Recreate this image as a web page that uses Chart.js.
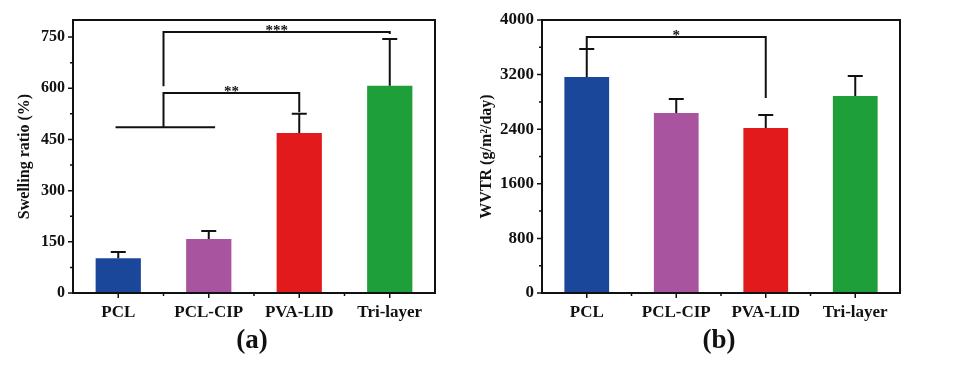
<!DOCTYPE html>
<html lang="en">
<head>
<meta charset="UTF-8">
<title>Swelling ratio and WVTR</title>
<script src="https://cdn.jsdelivr.net/npm/chart.js"></script>
<style>
  body { margin: 0; background: #fff; width: 955px; height: 371px; overflow: hidden; position: relative; }
  .panel { position: absolute; top: 0; height: 371px; }
  #panelA { left: 0; width: 460px; }
  #panelB { left: 480px; width: 475px; }
</style>
</head>
<body>
<div class="panel" id="panelA"><canvas id="chartA"></canvas></div>
<div class="panel" id="panelB"><canvas id="chartB"></canvas></div>

<script>
// data
const groups = ['PCL', 'PCL-CIP', 'PVA-LID', 'Tri-layer'];
const barColors = ['#1b479b', '#a8549f', '#e31a1c', '#1f9f39'];

const swelling = [102, 158, 469, 607];
const swellingErr = [18, 24, 56, 137];      // upper error only
const swellingTicks = [0, 150, 300, 450, 600, 750];

const wvtr = [3165, 2637, 2418, 2886];
const wvtrErr = [410, 205, 190, 293];
const wvtrTicks = [0, 800, 1600, 2400, 3200, 4000];

// significance marks (x in category index, y in data units)
const swellingGroupLine = { from: -0.03, to: 1.07, level: 486 };
const swellingBrackets = [
  { from: 0.5, to: 2, left: 486, level: 586, right: 530, label: '**' },
  { from: 0.5, to: 3, left: 606, level: 765, right: 759, label: '***' }
];
const wvtrBrackets = [
  { from: 0, to: 2, left: 3590, level: 3751, right: 2857, label: '*' }
];

const serif = '"Liberation Serif", "Times New Roman", serif';
Chart.defaults.font.family = serif;
Chart.defaults.font.weight = 'bold';
Chart.defaults.color = '#111';

function decor(values, errors, ticks, groupLine, brackets, tag) {
  return {
    id: 'decor',
    afterDatasetsDraw(chart) {
      const ctx = chart.ctx;
      const a = chart.chartArea;
      const x = chart.scales.x, y = chart.scales.y;
      ctx.save();
      ctx.strokeStyle = '#111';
      ctx.fillStyle = '#111';

      // error bars
      ctx.lineWidth = 2;
      values.forEach((v, i) => {
        const cx = x.getPixelForValue(i);
        const y0 = y.getPixelForValue(v);
        const y1 = y.getPixelForValue(v + errors[i]);
        ctx.beginPath();
        ctx.moveTo(cx, y0); ctx.lineTo(cx, y1);
        ctx.moveTo(cx - 7.5, y1); ctx.lineTo(cx + 7.5, y1);
        ctx.stroke();
      });

      // group line + brackets
      if (groupLine) {
        const gy = y.getPixelForValue(groupLine.level);
        ctx.beginPath();
        ctx.moveTo(x.getPixelForValue(groupLine.from), gy);
        ctx.lineTo(x.getPixelForValue(groupLine.to), gy);
        ctx.stroke();
      }
      ctx.font = 'bold 15px ' + serif;
      ctx.textAlign = 'center';
      ctx.textBaseline = 'alphabetic';
      brackets.forEach(b => {
        const x0 = x.getPixelForValue(b.from), x1 = x.getPixelForValue(b.to);
        const yl = y.getPixelForValue(b.level);
        ctx.beginPath();
        ctx.moveTo(x0, y.getPixelForValue(b.left));
        ctx.lineTo(x0, yl);
        ctx.lineTo(x1, yl);
        ctx.lineTo(x1, y.getPixelForValue(b.right));
        ctx.stroke();
        ctx.fillText(b.label, (x0 + x1) / 2, yl + 3);
      });

      // frame
      ctx.lineWidth = 2;
      ctx.strokeRect(a.left, a.top, a.right - a.left, a.bottom - a.top);

      // tick marks
      ctx.lineWidth = 1.5;
      ctx.beginPath();
      ticks.forEach((t, i) => {
        const ty = y.getPixelForValue(t);
        ctx.moveTo(a.left - 5, ty); ctx.lineTo(a.left, ty);
        if (i < ticks.length - 1) {
          const my = y.getPixelForValue((t + ticks[i + 1]) / 2);
          ctx.moveTo(a.left - 3, my); ctx.lineTo(a.left, my);
        }
      });
      groups.forEach((g, i) => {
        const tx = x.getPixelForValue(i);
        ctx.moveTo(tx, a.bottom); ctx.lineTo(tx, a.bottom + 5);
        if (i < groups.length - 1) {
          const mx = x.getPixelForValue(i + 0.5);
          ctx.moveTo(mx, a.bottom); ctx.lineTo(mx, a.bottom + 3);
        }
      });
      ctx.stroke();

      // panel tag
      ctx.font = 'bold 27px ' + serif;
      ctx.textBaseline = 'middle';
      ctx.fillText(tag, (a.left + a.right) / 2 - 2, a.bottom + 48);
      ctx.restore();
    }
  };
}

function makeChart(id, values, errors, ticks, maxY, yWidth, yTitle, titlePad, tickSize, rightPad, groupLine, brackets, tag) {
  return new Chart(document.getElementById(id), {
    type: 'bar',
    data: {
      labels: groups,
      datasets: [{
        data: values,
        backgroundColor: barColors,
        borderWidth: 0,
        barPercentage: 0.5,
        categoryPercentage: 1.0
      }]
    },
    options: {
      responsive: true,
      maintainAspectRatio: false,
      animation: false,
      devicePixelRatio: 1,
      layout: { padding: { top: 20, right: rightPad, left: 0, bottom: 0 } },
      plugins: { legend: { display: false }, tooltip: { enabled: false } },
      scales: {
        x: {
          afterFit: s => { s.height = 78; },
          grid: { display: false, drawTicks: false },
          border: { display: false },
          ticks: { padding: 9, autoSkip: false, maxRotation: 0, font: { size: 17, weight: 'bold' }, color: '#111' }
        },
        y: {
          min: 0,
          max: maxY,
          afterBuildTicks: s => { s.ticks = ticks.map(v => ({ value: v })); },
          afterFit: s => { s.width = yWidth; },
          grid: { display: false, drawTicks: false },
          border: { display: false },
          ticks: {
            padding: 8,
            font: { size: tickSize, weight: 'bold' },
            color: '#111',
            callback: v => String(v)
          },
          title: {
            display: true,
            text: yTitle,
            color: '#111',
            font: { size: 16, weight: 'bold' },
            padding: { top: titlePad, bottom: 0 }
          }
        }
      }
    },
    plugins: [decor(values, errors, ticks, groupLine, brackets, tag)]
  });
}

makeChart('chartA', swelling, swellingErr, swellingTicks, 800, 73, 'Swelling ratio (%)', 15, 16, 25,
  swellingGroupLine, swellingBrackets, '(a)');
makeChart('chartB', wvtr, wvtrErr, wvtrTicks, 4000, 62, 'WVTR (g/m\u00b2/day)', -3, 17, 55,
  null, wvtrBrackets, '(b)');
</script>
</body>
</html>
